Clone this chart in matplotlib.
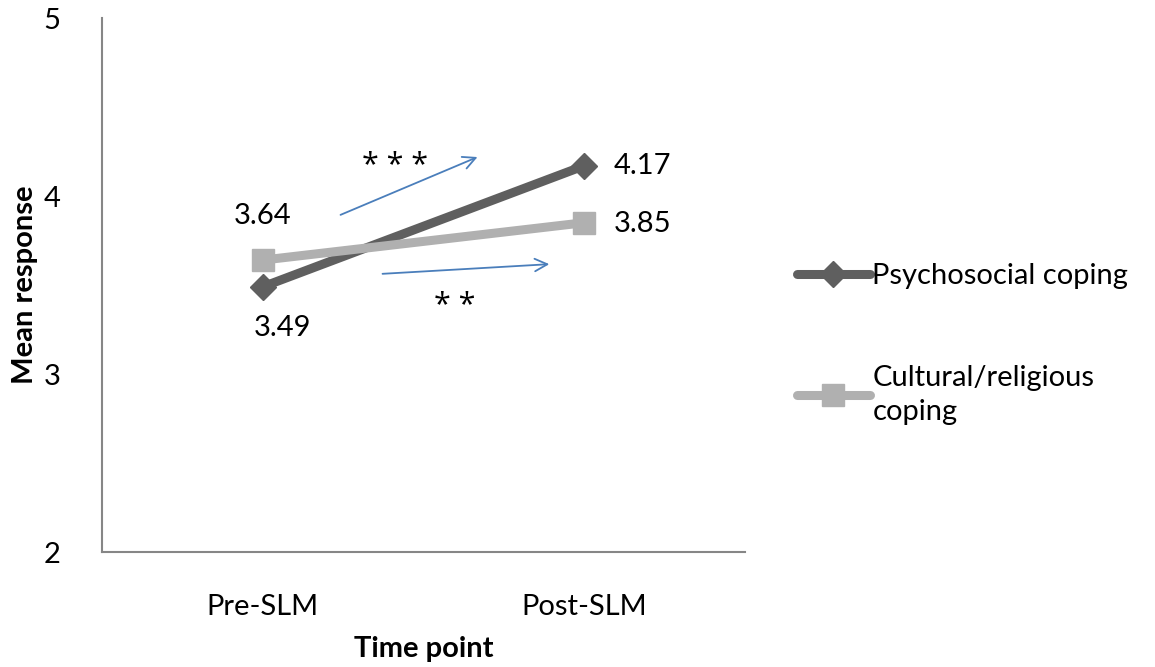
import matplotlib
matplotlib.use('Agg')
import matplotlib.pyplot as plt

# data
time_points = ['Pre-SLM', 'Post-SLM']
psychosocial = [3.49, 4.17]
cultural = [3.64, 3.85]
y_ticks = [2, 3, 4, 5]

plt.rcParams['font.family'] = ['Lato', 'DejaVu Sans']
FS = 21

fig = plt.figure(figsize=(11.55, 6.67), dpi=100)
ax = fig.add_axes([0.0883, 0.1724, 0.5567, 0.8006])

x = list(range(len(time_points)))
ax.plot(x, psychosocial, color='#5f5f5f', linewidth=6.5, marker='D',
        markersize=13, label='Psychosocial coping', solid_capstyle='round')
ax.plot(x, cultural, color='#b0b0b0', linewidth=6.5, marker='s',
        markersize=16, label='Cultural/religious\ncoping', solid_capstyle='round')

# value labels
ax.text(0, 3.89, f'{cultural[0]:.2f}', ha='center', va='center', fontsize=FS)
ax.text(0.06, 3.26, f'{psychosocial[0]:.2f}', ha='center', va='center', fontsize=FS)
ax.text(1.18, 4.17, f'{psychosocial[1]:.2f}', ha='center', va='center', fontsize=FS)
ax.text(1.18, 3.84, f'{cultural[1]:.2f}', ha='center', va='center', fontsize=FS)

# significance arrows
arrow_kw = dict(arrowstyle='->,head_length=0.9,head_width=0.45', color='#4a7ebb', lw=1.3)
ax.annotate('', xy=(0.676, 4.225), xytext=(0.234, 3.888), arrowprops=arrow_kw)
ax.annotate('', xy=(0.900, 3.618), xytext=(0.364, 3.562), arrowprops=arrow_kw)
ax.text(0.411, 4.17, '* * *', ha='center', va='center', fontsize=22, family='Open Sans')
ax.text(0.598, 3.38, '* *', ha='center', va='center', fontsize=22, family='Open Sans')

ax.set_xlim(-0.5, 1.5)
ax.set_ylim(2, 5)
ax.set_xticks(x)
ax.set_xticklabels(time_points, fontsize=FS)
ax.set_yticks(y_ticks)
ax.set_yticklabels([str(t) for t in y_ticks], fontsize=FS)
ax.tick_params(length=0)
ax.tick_params(axis='y', pad=30)
ax.tick_params(axis='x', pad=30)
for s in ['top', 'right']:
    ax.spines[s].set_visible(False)
for s in ['left', 'bottom']:
    ax.spines[s].set_color('#868686')
    ax.spines[s].set_linewidth(1.5)

ax.set_xlabel('Time point', fontsize=FS, fontweight='bold', labelpad=12)
ax.set_ylabel('Mean response', fontsize=FS, fontweight='bold', labelpad=4)

leg = fig.legend(loc='upper left', bbox_to_anchor=(0.667, 0.645), frameon=False,
                 fontsize=FS, handlelength=2.5, handletextpad=0.1, labelspacing=2.6)
for t in leg.get_texts():
    t.set_linespacing(1.4)

fig.savefig('out.png', dpi=100)
